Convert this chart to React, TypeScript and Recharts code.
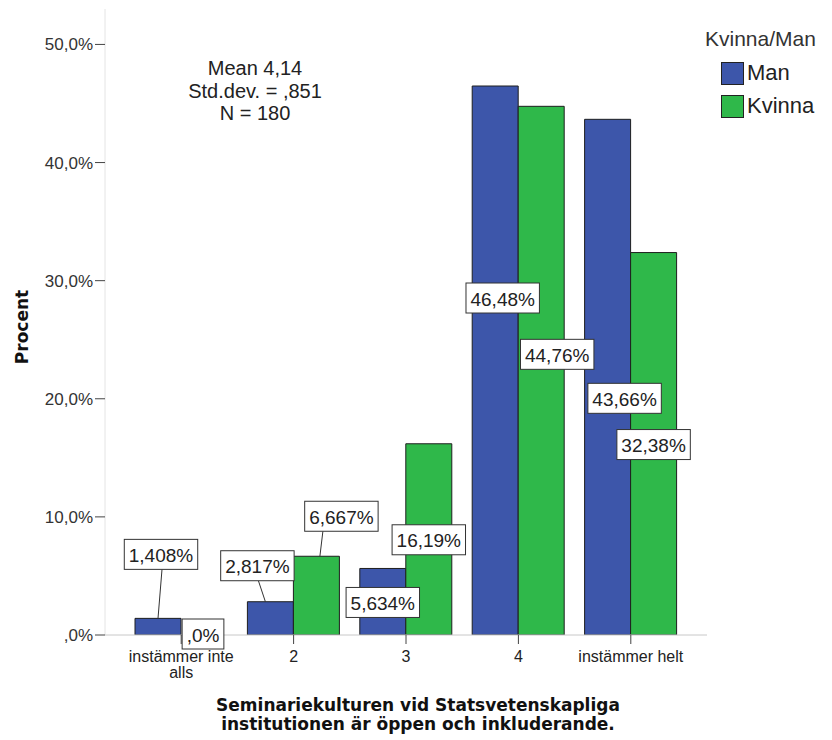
import React from "react";
import { BarChart, Bar, XAxis, YAxis, LabelList, Text } from "recharts";

const categories = ["instämmer inte alls", "2", "3", "4", "instämmer helt"];
const manValues = [1.408, 2.817, 5.634, 46.48, 43.66];
const kvinnaValues = [0, 6.667, 16.19, 44.76, 32.38];
const manLabels = ["1,408%", "2,817%", "5,634%", "46,48%", "43,66%"];
const kvinnaLabels = [",0%", "6,667%", "16,19%", "44,76%", "32,38%"];
const yTicks = [0, 10, 20, 30, 40, 50];
const yTickLabels = [",0%", "10,0%", "20,0%", "30,0%", "40,0%", "50,0%"];
const statLines = ["Mean 4,14", "Std.dev. = ,851", "N = 180"];

// label box placement (styling): offsets from bar top centre, leader line x offsets
const manLabelPlace = [
  { dx: 3, dy: -64, lead: [4, 0] },
  { dx: -13, dy: -36, lead: [-12, -5] },
  { dx: 0, dy: 34 },
  { dx: 7.5, dy: 212 },
  { dx: 17, dy: 279 },
];
const kvinnaLabelPlace = [
  { dx: -1, dy: -1 },
  { dx: 25, dy: -40, lead: [6.5, 3.5] },
  { dx: 0, dy: 96 },
  { dx: 16, dy: 248 },
  { dx: 0, dy: 192 },
];

const BLUE = "#3D56AA";
const GREEN = "#2FB84A";
const FONT = "'Liberation Sans', Arial, sans-serif";

const data = categories.map((c, i) => ({
  cat: c,
  man: manValues[i],
  kvinna: kvinnaValues[i],
}));

const charW: Record<string, number> = { ",": 0.278, ".": 0.278, "%": 0.889 };
const textWidth = (s: string, fs: number) =>
  s.split("").reduce((a, ch) => a + (charW[ch] ?? 0.556), 0) * fs;

const LabelBox = ({ barCx, barTop, txt, p }: any) => {
  const fs = 19;
  const bw = textWidth(txt, fs) + 9;
  const bh = 30;
  const cx = barCx + p.dx;
  const cy = barTop + p.dy;
  return (
    <g>
      {p.lead && (
        <line
          x1={barCx + p.lead[0]}
          y1={cy + bh / 2}
          x2={barCx + p.lead[1]}
          y2={barTop}
          stroke="#333"
          strokeWidth={1}
        />
      )}
      <rect x={cx - bw / 2} y={cy - bh / 2} width={bw} height={bh} fill="#fff" stroke="#333" strokeWidth={1} />
      <text
        x={cx}
        y={cy + 1}
        textAnchor="middle"
        dominantBaseline="central"
        fontSize={fs}
        fontFamily={FONT}
        fill="#222"
      >
        {txt}
      </text>
    </g>
  );
};

// Draws the Man label and the Kvinna label of the same category.
// The Kvinna bar sits right next to the Man bar; its top comes from the same y scale
// (pixels per unit taken from the Man bar drawn by the library).
const pairLabel = (props: any) => {
  const { x, y, width, height, value } = props;
  const i = manValues.indexOf(Number(value));
  if (i < 0) return null;
  const w = Number(width);
  const top = Number(y);
  const base = top + Number(height);
  const pxPerUnit = Number(height) / manValues[i];
  const manCx = Number(x) + w / 2;
  const kvCx = manCx + w;
  const kvTop = base - kvinnaValues[i] * pxPerUnit;
  return (
    <g>
      <LabelBox barCx={manCx} barTop={top} txt={manLabels[i]} p={manLabelPlace[i]} />
      <LabelBox barCx={kvCx} barTop={kvTop} txt={kvinnaLabels[i]} p={kvinnaLabelPlace[i]} />
    </g>
  );
};

const XTick = (props: any) => {
  const { x, y, payload } = props;
  return (
    <Text
      x={x}
      y={y}
      width={112}
      textAnchor="middle"
      verticalAnchor="start"
      lineHeight="16px"
      fontSize={16}
      fontFamily={FONT}
      fill="#222"
    >
      {payload.value}
    </Text>
  );
};

export default function App() {
  return (
    <div style={{ position: "relative", width: 824, height: 732, fontFamily: FONT }}>
      <BarChart
        width={824}
        height={732}
        data={data}
        margin={{ top: 1, right: 125, bottom: 0, left: 0 }}
        barCategoryGap={10}
        barGap={0}
      >
        <YAxis
          width={97}
          domain={[0, 53]}
          ticks={yTicks}
          allowDataOverflow
          tickFormatter={(v: number) => yTickLabels[yTicks.indexOf(v)]}
          tick={{ fill: "#333", fontSize: 17, fontFamily: FONT }}
          tickSize={10}
          tickMargin={2}
          axisLine={{ stroke: "#e4e4e4" }}
          tickLine={{ stroke: "#444" }}
        />
        <XAxis
          dataKey="cat"
          height={105}
          padding={{ left: 20, right: 20 }}
          interval={0}
          tick={<XTick />}
          tickSize={9}
          tickMargin={7}
          axisLine={{ stroke: "#c8c8c8" }}
          tickLine={{ stroke: "#444" }}
        />
        <Bar dataKey="man" fill={BLUE} stroke="#1e1e1e" strokeWidth={1} isAnimationActive={false}>
          <LabelList dataKey="man" content={pairLabel} />
        </Bar>
        <Bar dataKey="kvinna" fill={GREEN} stroke="#1e1e1e" strokeWidth={1} isAnimationActive={false} />
      </BarChart>

      <div
        style={{
          position: "absolute",
          left: 147,
          top: 49,
          width: 200,
          textAlign: "center",
          fontSize: 20,
          lineHeight: "22.5px",
          color: "#222",
        }}
      >
        {statLines.map((s) => (
          <div key={s}>{s}</div>
        ))}
      </div>

      <div style={{ position: "absolute", left: 697, top: 19, fontSize: 21, lineHeight: "24px", color: "#333" }}>
        Kvinna/Man
      </div>
      <div style={{ position: "absolute", left: 713, top: 54, width: 21, height: 21, background: BLUE, border: "1px solid #222" }} />
      <div style={{ position: "absolute", left: 739, top: 52, fontSize: 22, lineHeight: "26px", color: "#222" }}>Man</div>
      <div style={{ position: "absolute", left: 713, top: 87, width: 21, height: 21, background: GREEN, border: "1px solid #222" }} />
      <div style={{ position: "absolute", left: 739, top: 85, fontSize: 22, lineHeight: "26px", color: "#222" }}>Kvinna</div>

      <div
        style={{
          position: "absolute",
          left: 14,
          top: 319,
          transform: "translate(-50%, -50%) rotate(-90deg)",
          whiteSpace: "nowrap",
          fontFamily: "'DejaVu Sans', sans-serif",
          fontWeight: "bold",
          fontSize: 17,
          color: "#111",
        }}
      >
        Procent
      </div>

      <div
        style={{
          position: "absolute",
          left: 60,
          top: 688,
          width: 700,
          textAlign: "center",
          fontFamily: "'DejaVu Sans', sans-serif",
          fontWeight: "bold",
          fontSize: 17,
          lineHeight: "19px",
          color: "#111",
        }}
      >
        <div>Seminariekulturen vid Statsvetenskapliga</div>
        <div>institutionen är öppen och inkluderande.</div>
      </div>
    </div>
  );
}
